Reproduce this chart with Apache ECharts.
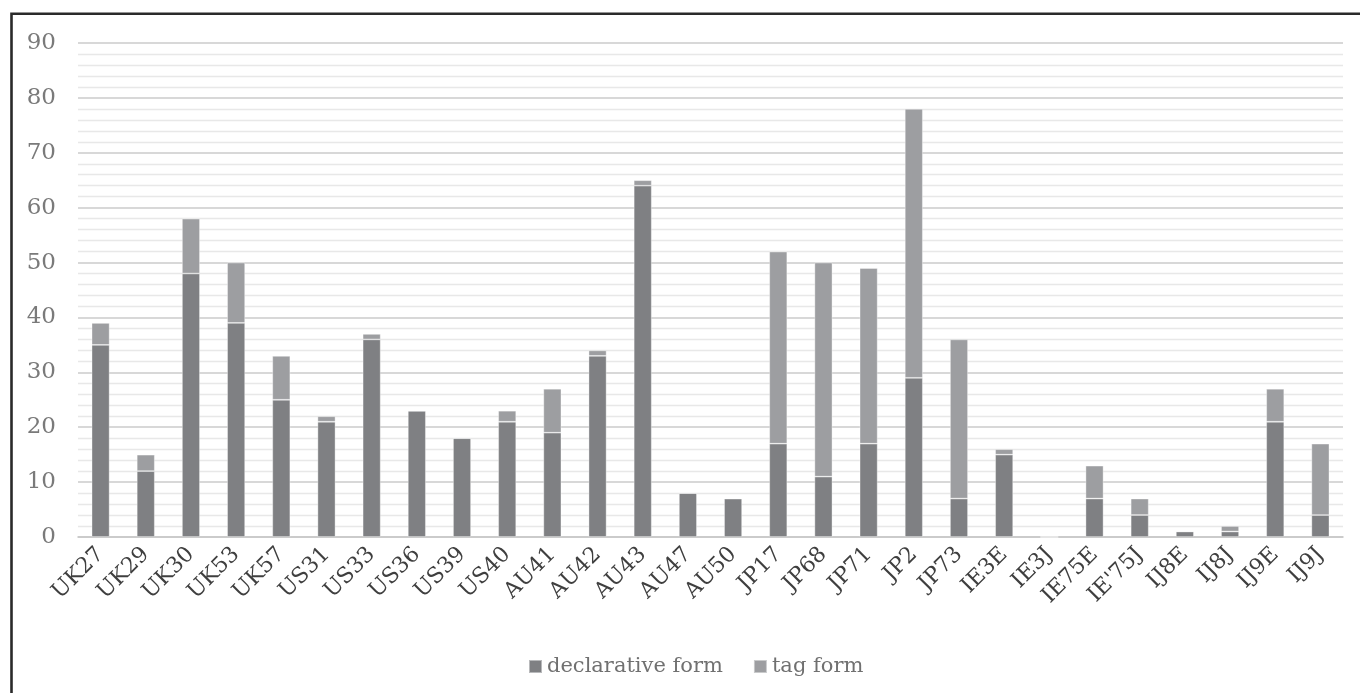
<!DOCTYPE html>
<html>
<head>
<meta charset="utf-8">
<script src="https://cdn.jsdelivr.net/npm/echarts@6/dist/echarts.min.js"></script>
<style>
html,body{margin:0;padding:0;background:#fff;}
#c{width:1360px;height:693px;}
</style>
</head>
<body>
<div id="c"></div>
<script>
const categories = ["UK27","UK29","UK30","UK53","UK57","US31","US33","US36","US39","US40","AU41","AU42","AU43","AU47","AU50","JP17","JP68","JP71","JP2","JP73","IE3E","IE3J","IE75E","IE'75J","IJ8E","IJ8J","IJ9E","IJ9J"];
const declarative = [35,12,48,39,25,21,36,23,18,21,19,33,64,8,7,17,11,17,29,7,15,0,7,4,1,1,21,4];
const tag = [4,3,10,11,8,1,1,0,0,2,8,1,1,0,0,35,39,32,49,29,1,0,6,3,0,1,6,13];
const yTicks = [0,10,20,30,40,50,60,70,80,90];

const FONT = '"DejaVu Serif", serif';
const chart = echarts.init(document.getElementById('c'), null, {renderer:'canvas'});
chart.setOption({
  animation:false,
  backgroundColor:'#ffffff',
  graphic:[{
    type:'rect', silent:true,
    shape:{x:11.5, y:13.8, width:1420, height:800},
    style:{fill:'none', stroke:'#2a2a2a', lineWidth:2.6}
  }],
  grid:{left:78, right:17, top:43, bottom:156, containLabel:false},
  legend:{
    data:['declarative form','tag form'],
    left:523, top:651,
    icon:'rect', itemWidth:13, itemHeight:13, itemGap:30,
    textStyle:{fontFamily:FONT, fontSize:21, color:'#707070'}
  },
  xAxis:{
    type:'category', data:categories,
    axisLine:{show:true, lineStyle:{color:'#c6c6c6', width:1.6}},
    axisTick:{show:false},
    axisLabel:{interval:0, rotate:45, margin:14, fontFamily:FONT, fontSize:22, color:'#3f3f3f'}
  },
  yAxis:{
    type:'value', min:yTicks[0], max:yTicks[yTicks.length-1], interval:10,
    axisLine:{show:false}, axisTick:{show:false},
    axisLabel:{margin:22, fontFamily:FONT, fontSize:23, color:'#7a7a7a'},
    splitLine:{show:true, lineStyle:{color:'#cbcbcb', width:1.5}},
    minorTick:{show:false, splitNumber:5},
    minorSplitLine:{show:true, lineStyle:{color:'#e8e8e8', width:1.4}}
  },
  series:[
    {name:'declarative form', type:'bar', stack:'s', data:declarative, barWidth:18,
     itemStyle:{color:'#7f8083', borderColor:'rgba(255,255,255,0.45)', borderWidth:0.8}},
    {name:'tag form', type:'bar', stack:'s', data:tag, barWidth:18,
     itemStyle:{color:'#9d9ea1', borderColor:'rgba(255,255,255,0.45)', borderWidth:0.8}}
  ]
});
</script>
</body>
</html>
